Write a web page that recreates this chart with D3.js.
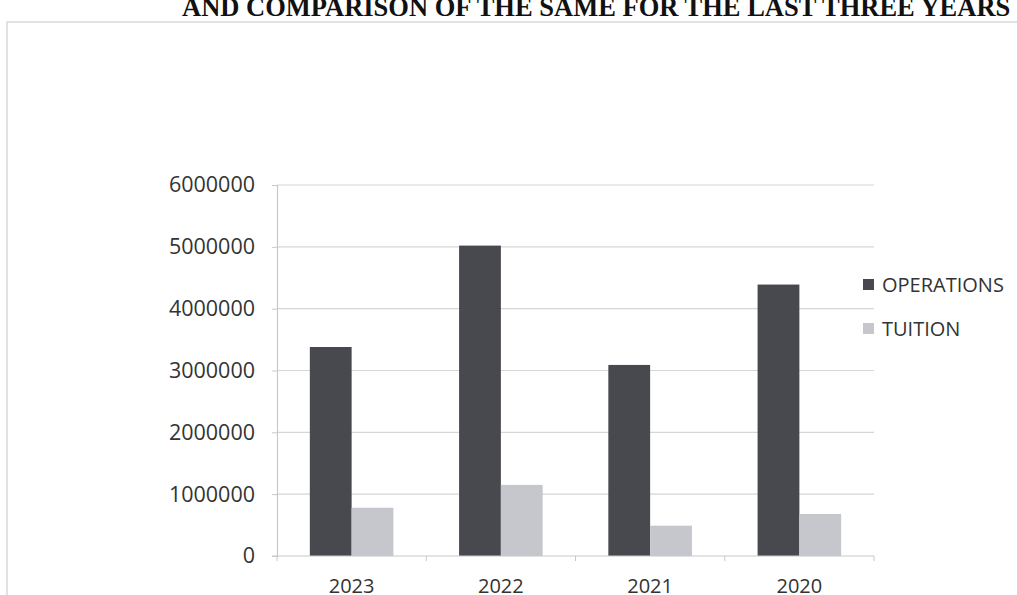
<!DOCTYPE html>
<html>
<head>
<meta charset="utf-8">
<script src="https://cdn.jsdelivr.net/npm/d3@7"></script>
<style>
  html, body { margin: 0; padding: 0; background: #fff; }
  svg { display: block; }
</style>
</head>
<body>
<div id="chart"></div>
<script>
const years = ["2023", "2022", "2021", "2020"];
const seriesNames = ["OPERATIONS", "TUITION"];
const operations = [3380000, 5020000, 3090000, 4390000];
const tuition = [780000, 1150000, 490000, 680000];
const yTicks = [0, 1000000, 2000000, 3000000, 4000000, 5000000, 6000000];

const colors = { OPERATIONS: "#47494f", TUITION: "#c5c7cd" };

const W = 1017, H = 595;
const plot = { left: 277, right: 874, top: 185, bottom: 556 };
const labelFont = "Open Sans, Noto Sans, sans-serif";
const labelSize = 20;
const labelColor = "#333";

const svg = d3.select("#chart").append("svg")
  .attr("width", W).attr("height", H);

// title (its top is cut by the page edge, as in the scan)
svg.append("text")
  .attr("x", 182).attr("y", 16)
  .attr("font-family", "Liberation Serif, Times New Roman, serif")
  .attr("font-weight", "bold")
  .attr("font-size", 26.5)
  .attr("fill", "#111")
  .text("AND COMPARISON OF THE SAME FOR THE LAST THREE YEARS");

// chart frame
svg.append("rect")
  .attr("x", 7).attr("y", 22)
  .attr("width", W + 10).attr("height", H)
  .attr("fill", "none")
  .attr("stroke", "#d9d9d9")
  .attr("stroke-width", 1.5);

const rows = years.map((y, i) => ({ year: y, OPERATIONS: operations[i], TUITION: tuition[i] }));

const x0 = d3.scaleBand().domain(years)
  .range([plot.left, plot.right])
  .paddingInner(0.44).paddingOuter(0.22);
const x1 = d3.scaleBand().domain(seriesNames).range([0, x0.bandwidth()]);
const y = d3.scaleLinear().domain([0, 6000000]).range([plot.bottom, plot.top]);

// gridlines
svg.append("g")
  .selectAll("line")
  .data(yTicks.slice(1))
  .join("line")
  .attr("x1", plot.left).attr("x2", plot.right)
  .attr("y1", d => y(d)).attr("y2", d => y(d))
  .attr("stroke", "#d6d6d6").attr("stroke-width", 1.2);

// y axis
const yAxis = svg.append("g")
  .attr("transform", `translate(${plot.left},0)`)
  .call(d3.axisLeft(y).tickValues(yTicks).tickSize(5).tickPadding(17).tickFormat(d3.format("d")));
yAxis.select(".domain").attr("stroke", "#c8c8c8").attr("stroke-width", 1.2);
yAxis.selectAll(".tick line").attr("stroke", "#c8c8c8");
yAxis.selectAll("text")
  .attr("font-family", labelFont)
  .attr("font-size", 21.5)
  .attr("fill", labelColor);

// bars
svg.append("g")
  .selectAll("g")
  .data(rows)
  .join("g")
  .attr("transform", d => `translate(${x0(d.year)},0)`)
  .selectAll("rect")
  .data(d => seriesNames.map(k => ({ key: k, value: d[k] })))
  .join("rect")
  .attr("x", d => x1(d.key))
  .attr("y", d => y(d.value))
  .attr("width", x1.bandwidth())
  .attr("height", d => y(0) - y(d.value))
  .attr("fill", d => colors[d.key]);

// x axis with ticks on the category boundaries
const xAxisG = svg.append("g").attr("transform", `translate(0,${plot.bottom})`);
xAxisG.append("line")
  .attr("x1", plot.left - 5).attr("x2", plot.right)
  .attr("stroke", "#c8c8c8").attr("stroke-width", 1.2);
const bounds = years.map(d => x0(d) - x0.step() * 0.22).concat([plot.right]);
bounds[0] = plot.left;
xAxisG.selectAll(".bt")
  .data(bounds)
  .join("line")
  .attr("class", "bt")
  .attr("x1", d => d).attr("x2", d => d)
  .attr("y1", 0).attr("y2", 5)
  .attr("stroke", "#c8c8c8");
xAxisG.selectAll("text")
  .data(years)
  .join("text")
  .attr("x", d => x0(d) + x0.bandwidth() / 2)
  .attr("y", 37)
  .attr("text-anchor", "middle")
  .attr("font-family", labelFont)
  .attr("font-size", labelSize)
  .attr("fill", labelColor)
  .text(d => d);

// legend
const legend = svg.append("g").attr("transform", "translate(863,279)");
const li = legend.selectAll("g")
  .data(seriesNames)
  .join("g")
  .attr("transform", (d, i) => `translate(0,${i * 44})`);
li.append("rect")
  .attr("width", 11).attr("height", 11)
  .attr("fill", d => colors[d]);
li.append("text")
  .attr("x", 19).attr("y", 13)
  .attr("font-family", labelFont)
  .attr("font-size", labelSize)
  .attr("fill", labelColor)
  .text(d => d);
</script>
</body>
</html>
